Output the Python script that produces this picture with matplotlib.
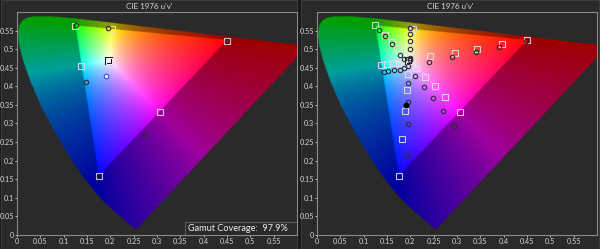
import numpy as np
import matplotlib
matplotlib.use("Agg")
import matplotlib.pyplot as plt
from matplotlib.path import Path
from matplotlib.patches import Rectangle

plt.rcParams['font.family'] = ['Lato', 'DejaVu Sans']

# CIE 1931 spectral locus (x, y), 380-700 nm
locus_x = [0.1741, 0.1740, 0.1738, 0.1736, 0.1733, 0.1730, 0.1726, 0.1721, 0.1714, 0.1703,
           0.1689, 0.1669, 0.1644, 0.1611, 0.1566, 0.1510, 0.1440, 0.1355, 0.1241, 0.1096,
           0.0913, 0.0687, 0.0454, 0.0235, 0.0082, 0.0039, 0.0139, 0.0389, 0.0743, 0.1142,
           0.1547, 0.1929, 0.2296, 0.2658, 0.3016, 0.3373, 0.3731, 0.4087, 0.4441, 0.4788,
           0.5125, 0.5448, 0.5752, 0.6029, 0.6270, 0.6482, 0.6658, 0.6801, 0.6915, 0.7006,
           0.7079, 0.7140, 0.7190, 0.7230, 0.7260, 0.7300, 0.7320, 0.7334, 0.7347]
locus_y = [0.0050, 0.0050, 0.0049, 0.0049, 0.0048, 0.0048, 0.0048, 0.0048, 0.0051, 0.0058,
           0.0069, 0.0086, 0.0109, 0.0138, 0.0177, 0.0227, 0.0297, 0.0399, 0.0578, 0.0868,
           0.1327, 0.2007, 0.2950, 0.4127, 0.5384, 0.6548, 0.7502, 0.8120, 0.8338, 0.8262,
           0.8059, 0.7816, 0.7543, 0.7243, 0.6923, 0.6589, 0.6245, 0.5896, 0.5547, 0.5202,
           0.4866, 0.4544, 0.4242, 0.3965, 0.3725, 0.3514, 0.3340, 0.3197, 0.3083, 0.2993,
           0.2920, 0.2859, 0.2809, 0.2770, 0.2740, 0.2700, 0.2680, 0.2666, 0.2653]

# left panel: targets / measured, order R G B C M Y W
left_target_u = [0.451, 0.125, 0.175, 0.138, 0.306, 0.204, 0.198]
left_target_v = [0.523, 0.562, 0.158, 0.455, 0.330, 0.555, 0.468]
left_meas_u = [0.449, 0.127, 0.176, 0.148, 0.275, 0.195]
left_meas_v = [0.522, 0.566, 0.160, 0.411, 0.273, 0.556]
left_white_meas = (0.190, 0.427)
gamut_coverage = 97.9

# right panel: saturation sweeps 20..100 %
sweep_target_u = {
    'R': [0.243, 0.295, 0.342, 0.397, 0.451],
    'G': [0.186, 0.172, 0.160, 0.146, 0.125],
    'B': [0.194, 0.193, 0.189, 0.182, 0.175],
    'C': [0.187, 0.175, 0.162, 0.150, 0.138],
    'M': [0.213, 0.232, 0.252, 0.275, 0.306],
    'Y': [0.199, 0.200, 0.201, 0.203, 0.206],
}
sweep_target_v = {
    'R': [0.481, 0.491, 0.501, 0.514, 0.524],
    'G': [0.485, 0.503, 0.520, 0.537, 0.564],
    'B': [0.433, 0.389, 0.333, 0.257, 0.160],
    'C': [0.466, 0.464, 0.462, 0.460, 0.458],
    'M': [0.450, 0.426, 0.401, 0.371, 0.332],
    'Y': [0.483, 0.500, 0.518, 0.535, 0.554],
}
sweep_meas_u = {
    'R': [0.240, 0.290, 0.340, 0.390, 0.447],
    'G': [0.187, 0.177, 0.161, 0.145, 0.133],
    'B': [0.196, 0.194, 0.194, 0.194, 0.193],
    'C': [0.187, 0.177, 0.164, 0.152, 0.143],
    'M': [0.211, 0.229, 0.248, 0.270, 0.293],
    'Y': [0.200, 0.200, 0.200, 0.200, 0.200],
}
sweep_meas_v = {
    'R': [0.466, 0.478, 0.493, 0.505, 0.522],
    'G': [0.473, 0.484, 0.513, 0.536, 0.552],
    'B': [0.454, 0.408, 0.357, 0.298, 0.214],
    'C': [0.449, 0.445, 0.444, 0.440, 0.438],
    'M': [0.429, 0.399, 0.368, 0.334, 0.293],
    'Y': [0.477, 0.501, 0.523, 0.541, 0.558],
}
white_target = (0.198, 0.469)
white_meas = (0.199, 0.472)
black_meas = (0.191, 0.349)

ticks = [0, 0.05, 0.1, 0.15, 0.2, 0.25, 0.3, 0.35, 0.4, 0.45, 0.5, 0.55]
tick_labels = ['0', '0.05', '0.1', '0.15', '0.2', '0.25', '0.3', '0.35', '0.4', '0.45', '0.5', '0.55']

BG = '#2a2a2a'
FIG_BG = '#1a1a1a'
TXT = '#d8d8d8'


def xy_to_uv(x, y):
    x = np.asarray(x); y = np.asarray(y)
    d = -2 * x + 12 * y + 3
    return 4 * x / d, 9 * y / d


def chroma_image(n=500):
    lu, lv = xy_to_uv(locus_x, locus_y)
    locus_path = Path(np.column_stack([lu, lv]))
    tri = Path(np.column_stack([left_target_u[:3], left_target_v[:3]]))
    u, v = np.meshgrid(np.linspace(0, 0.6, n), np.linspace(0, 0.6, n))
    v = np.maximum(v, 1e-4)
    d = 6 * u - 16 * v + 12
    x = 9 * u / d
    y = 4 * v / d
    X = x / y
    Z = (1 - x - y) / y
    M = np.array([[3.2406, -1.5372, -0.4986],
                  [-0.9689, 1.8758, 0.0415],
                  [0.0557, -0.2040, 1.0570]])
    XYZ = np.stack([X, np.ones_like(X), Z], axis=-1)
    rgb = np.clip(XYZ @ M.T, 0, None)
    rgb = rgb / np.maximum(rgb.max(axis=-1, keepdims=True), 1e-9)
    rgb = rgb ** (1 / 1.35)
    pts = np.column_stack([u.ravel(), v.ravel()])
    inside = locus_path.contains_points(pts).reshape(u.shape)
    in_tri = tri.contains_points(pts).reshape(u.shape)
    rgb = np.where(in_tri[..., None], rgb, rgb * 0.62)
    img = np.concatenate([rgb, inside[..., None].astype(float)], axis=-1)
    return np.clip(img, 0, 1)


img = chroma_image()

fig = plt.figure(figsize=(6.0, 2.49), dpi=100, facecolor=FIG_BG)
# panel backgrounds
fig.add_artist(Rectangle((0.002, 0.0), 0.493, 0.998, transform=fig.transFigure,
                         facecolor=BG, edgecolor='#3c3c3c', lw=0.8, zorder=-10))
fig.add_artist(Rectangle((0.502, 0.0), 0.496, 0.998, transform=fig.transFigure,
                         facecolor=BG, edgecolor='#3c3c3c', lw=0.8, zorder=-10))

axL = fig.add_axes([17 / 600, 14 / 249, 280 / 600, 223 / 249])
axR = fig.add_axes([317 / 600, 14 / 249, 280 / 600, 223 / 249])

for ax, cx in ((axL, 149 / 600), (axR, 450 / 600)):
    ax.set_facecolor(BG)
    ax.imshow(img, extent=[0, 0.6, 0, 0.6], origin='lower', aspect='auto',
              interpolation='bilinear', zorder=1)
    ax.set_xlim(0, 0.6)
    ax.set_ylim(0, 0.6)
    ax.set_xticks(ticks)
    ax.set_xticklabels(tick_labels)
    ax.set_yticks(ticks)
    ax.set_yticklabels(tick_labels)
    ax.tick_params(colors=TXT, labelsize=5.2, length=1.5, width=0.6, pad=0.8)
    for s in ax.spines.values():
        s.set_color('#8a8a8a')
        s.set_linewidth(0.8)
    fig.text(cx, 0.975, "CIE 1976 u'v'", ha='center', va='center', color=TXT, fontsize=5.8)

sq = dict(marker='s', ls='none', ms=4.8, mfc='none', mec='#e0e0e0', mew=0.8, alpha=0.9, zorder=4)
circ = dict(marker='o', ls='none', ms=3.2, mfc='none', mec='#2e2a34', mew=0.8, zorder=5)
wsq_dark = dict(marker='s', ls='none', ms=4.6, mfc='none', mec='#1a1a1a', mew=1.5, zorder=4)
wsq = dict(marker='s', ls='none', ms=4.6, mfc='none', mec='#f4f4f4', mew=0.7, zorder=4)

# left panel
axL.plot(left_target_u[:6], left_target_v[:6], **sq)
axL.plot([left_target_u[6]], [left_target_v[6]], **wsq_dark)
axL.plot([left_target_u[6]], [left_target_v[6]], **wsq)
axL.plot(left_meas_u, left_meas_v, **circ)
axL.plot([left_white_meas[0]], [left_white_meas[1]], marker='o', ls='none', ms=3.2,
         mfc='#f4f4ff', mec='#3050c0', mew=0.8, zorder=5)
axL.add_patch(Rectangle((0.361, 0.0), 0.239, 0.036, facecolor=BG, edgecolor='#5a5a5a',
                        lw=0.8, zorder=6))
axL.text(0.366, 0.018, f"Gamut Coverage:  {gamut_coverage}%", ha='left', va='center',
         color='#f0f0f0', fontsize=6.6, zorder=7)

# right panel
for k in sweep_target_u:
    axR.plot(sweep_target_u[k], sweep_target_v[k], **sq)
for k in sweep_meas_u:
    axR.plot(sweep_meas_u[k], sweep_meas_v[k], **circ)
axR.plot([white_target[0]], [white_target[1]], **wsq_dark)
axR.plot([white_target[0]], [white_target[1]], **wsq)
axR.plot([white_meas[0]], [white_meas[1]], **circ)
axR.plot([black_meas[0]], [black_meas[1]], marker='o', ls='none', ms=3.2,
         mfc='black', mec='black', zorder=5)

fig.savefig('out.png', dpi=100, facecolor=FIG_BG)
